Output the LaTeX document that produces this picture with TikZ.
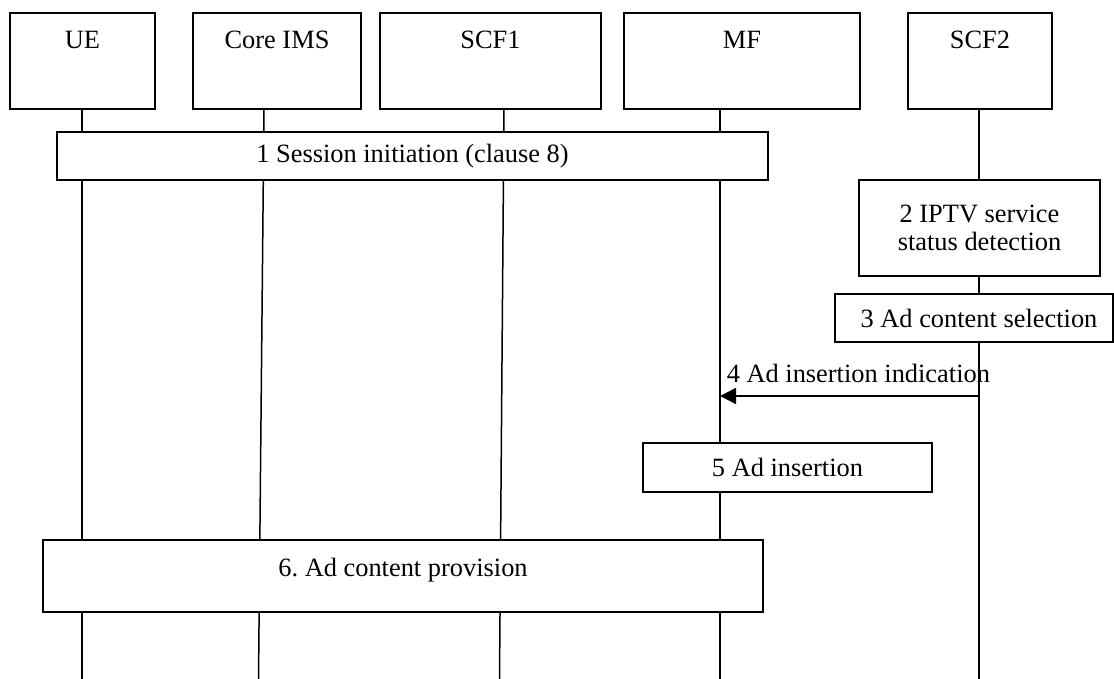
\documentclass[tikz,border=0pt]{standalone}
\usepackage{fontspec}
\setmainfont{Liberation Serif}
\usetikzlibrary{arrows.meta}
\frenchspacing
\tikzset{
  entity/.style={draw,line width=1pt,anchor=north west,minimum height=48pt,
    inner sep=0pt,text height=18pt,text depth=30pt},
  stepbox/.style={draw,line width=1pt,fill=white,inner sep=0pt,
    minimum height=24pt,align=center},
  lifeline/.style={line width=0.75pt},
  msg/.style={line width=0.75pt,-{Triangle[length=8pt,width=8pt]}}
}
\begin{document}
\begin{tikzpicture}[x=0.5pt,y=-0.5pt,font=\fontsize{13.2}{14}\selectfont]
   \useasboundingbox (0,0) rectangle (1114,679);
   \foreach \n/\t/\x/\w in
     {ue/UE/9/72.5,
      ims/Core IMS/192/84,
      scf1/SCF1/379/110.5,
      mf/MF/623/118,
      scf2/SCF2/907/72
     }
     \node[entity,minimum width=\w pt] (\n) at (\x,12) {\t};
   \foreach \n/\a/\b in {ue/82/82, ims/264/258.5, scf1/504/499.5, mf/720/720, scf2/979/979}
     {
     \coordinate (\n-top) at (\a,108);
     \coordinate (\n-end) at (\b,679);
     \draw[lifeline] (\n-top) -- (\n-end);
     }
   \node[stepbox,minimum width=355.5pt] (s1) at (412.5,156) {1 Session initiation (clause 8)};
   \node[stepbox,minimum width=120.5pt,minimum height=48pt] (s2) at (979.5,228) {2 IPTV service\\status detection};
   \node[stepbox,minimum width=139pt] (s3) at (974,318) {\hspace*{5pt}3 Ad content selection};
   \node[stepbox,minimum width=144.5pt,minimum height=24.5pt] (s5) at (787.5,467.5) {5 Ad insertion};
   \node[stepbox,minimum width=360pt,minimum height=36pt,text height=18pt,text depth=18pt] (s6) at (403,576) {6. Ad content provision};
   \coordinate (m4) at (720,396);
   \coordinate (s4) at (979,396);
   \draw[msg] (s4) -- node[pos=1,anchor=base west,xshift=3pt,yshift=7pt,inner sep=0pt] {4 Ad insertion indication} (m4);
\end{tikzpicture}
\end{document}
